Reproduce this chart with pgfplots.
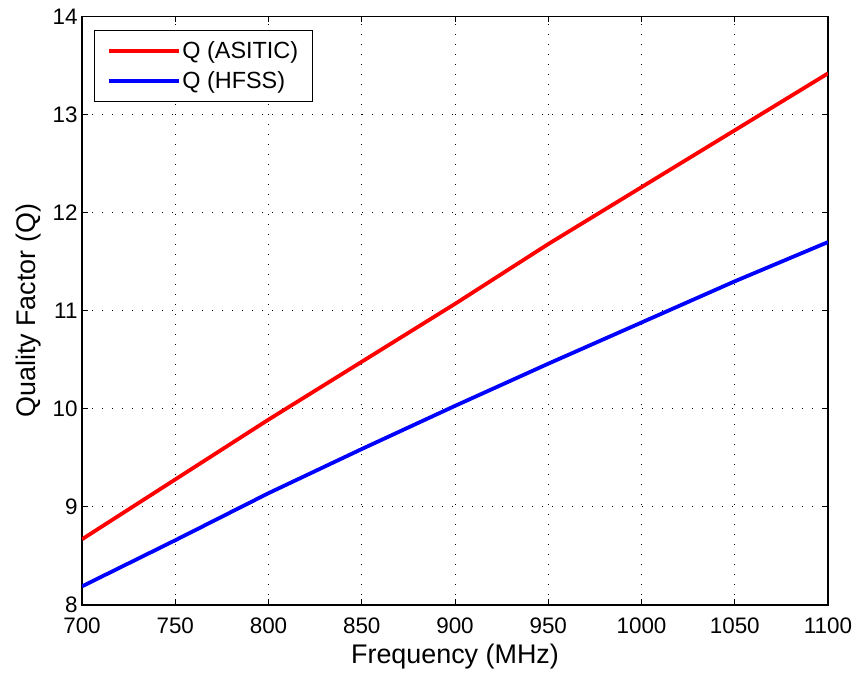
\documentclass[border=0pt]{standalone}
\usepackage{fontspec}
\setmainfont{Liberation Sans}
\usepackage{pgfplots}
\pgfplotsset{compat=1.18}
\begin{document}
\begin{tikzpicture}
\begin{axis}[
  scale only axis,
  width=746bp, height=588.5bp,
  xmin=700, xmax=1100, ymin=8, ymax=14,
  xtick={700,750,...,1100}, ytick={8,9,...,14},
  grid=major,
  grid style={black, line width=1bp, dash pattern=on 1bp off 9bp},
  axis line style={black, line width=1.2bp},
  tick style={black, line width=0.9bp},
  tick align=inside,
  major tick length=6bp,
  /pgf/number format/assume math mode=true,
  /pgf/number format/1000 sep={},
  tick label style={font=\fontsize{22.5}{26}\selectfont},
  xticklabel style={yshift=-9bp},
  yticklabel style={xshift=-1bp},
  xlabel={Frequency (MHz)}, ylabel={Quality Factor (Q)},
  label style={font=\fontsize{27}{31}\selectfont},
  xlabel style={yshift=-4bp},
  ylabel style={yshift=5bp},
  legend style={at={(0,1)}, anchor=north west, xshift=12bp, yshift=-13.5bp,
    draw=black, line width=1.2bp, font=\fontsize{23.5}{28}\selectfont,
    inner xsep=12bp, inner ysep=9bp, row sep=8bp},
  legend cell align=left,
  legend image code/.code={\draw[#1] (0bp,0bp) -- (70bp,0bp);},
]
\addplot[red, line width=3.8bp] coordinates {
(700,8.67) (750,9.28) (800,9.89) (850,10.48) (900,11.07) (950,11.68) (1000,12.26) (1050,12.84) (1100,13.42)};
\addlegendentry{Q (ASITIC)}
\addplot[blue, line width=3.8bp] coordinates {
(700,8.19) (750,8.66) (800,9.14) (850,9.59) (900,10.03) (950,10.46) (1000,10.88) (1050,11.30) (1100,11.70)};
\addlegendentry{Q (HFSS)}
\coordinate (bl) at (rel axis cs:0,0);
\coordinate (tr) at (rel axis cs:1,1);
\end{axis}
\pgfresetboundingbox
\useasboundingbox ([shift={(-82bp,-72bp)}]bl) rectangle ([shift={(29bp,16.5bp)}]tr);
\end{tikzpicture}
\end{document}
